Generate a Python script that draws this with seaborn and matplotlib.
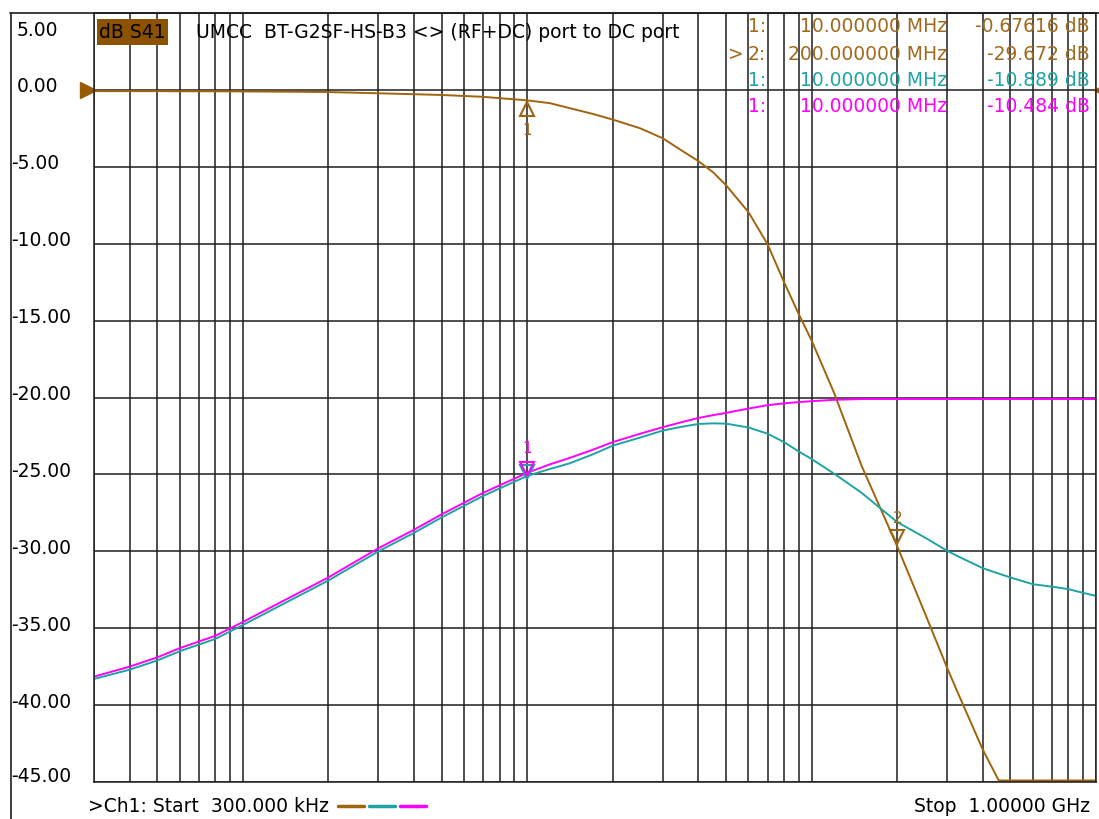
import numpy as np
import pandas as pd
import matplotlib
matplotlib.use('Agg')
import matplotlib.pyplot as plt
import matplotlib.transforms as mtransforms
from matplotlib.lines import Line2D
from matplotlib.patches import Rectangle
from matplotlib.ticker import LogLocator, MultipleLocator
import seaborn as sns

# ── data ──
freq_mhz = [0.3, 0.4, 0.5, 0.6, 0.8, 1, 1.5, 2, 3, 4, 5, 7, 10, 12, 14, 17, 20,
            25, 30, 35, 40, 45, 50, 60, 70, 80, 90, 100, 120, 150, 200, 250,
            300, 325, 400, 455, 500, 600, 700, 800, 900, 1000]
s41_db = [-0.08, -0.08, -0.08, -0.09, -0.09, -0.10, -0.12, -0.14, -0.22, -0.28,
          -0.33, -0.45, -0.68, -0.86, -1.17, -1.56, -1.93, -2.5, -3.15, -3.95,
          -4.63, -5.35, -6.19, -7.95, -10.03, -12.49, -14.55, -16.29, -19.7,
          -24.45, -29.67, -34.0, -37.6, -39.1, -42.9, -44.9, -44.9, -44.9,
          -44.9, -44.9, -44.9, -44.9]
teal_db = [-38.3, -37.7, -37.1, -36.5, -35.7, -34.8, -33.1, -31.9, -30.0, -28.8,
           -27.8, -26.4, -25.1, -24.65, -24.3, -23.7, -23.13, -22.6, -22.15,
           -21.9, -21.72, -21.68, -21.7, -21.95, -22.35, -22.9, -23.5, -24.0,
           -24.95, -26.2, -28.1, -29.1, -29.97, -30.3, -31.1, -31.45, -31.7,
           -32.14, -32.3, -32.46, -32.7, -32.9]
magenta_db = [-38.15, -37.5, -36.9, -36.3, -35.5, -34.6, -32.9, -31.7, -29.8,
              -28.6, -27.6, -26.2, -24.9, -24.35, -23.95, -23.4, -22.9, -22.35,
              -21.93, -21.6, -21.33, -21.15, -21.0, -20.72, -20.5, -20.38, -20.3,
              -20.24, -20.15, -20.1, -20.1, -20.1, -20.1, -20.1, -20.1, -20.1,
              -20.1, -20.1, -20.1, -20.1, -20.1, -20.1]
trace_names = ['S41', 'trace2', 'trace3']
trace_colors = ['#A0640F', '#1FA3A3', '#FF00FF']

y_ticks = [5, 0, -5, -10, -15, -20, -25, -30, -35, -40, -45]
y_tick_labels = ['5.00', '0.00', '-5.00', '-10.00', '-15.00', '-20.00', '-25.00',
                 '-30.00', '-35.00', '-40.00', '-45.00']

readout_idx = ['1:', '> 2:', '1:', '1:']
readout_freq = ['10.000000 MHz', '200.000000 MHz', '10.000000 MHz', '10.000000 MHz']
readout_val = ['-0.67616 dB', '-29.672 dB', '-10.889 dB', '-10.484 dB']
readout_color = ['#A06A1E', '#A06A1E', '#1FA3A3', '#FF00FF']

title_text = 'UMCC  BT-G2SF-HS-B3 <> (RF+DC) port to DC port'
start_text = '>Ch1: Start  300.000 kHz'
stop_text = 'Stop  1.00000 GHz'

# ── build long table ──
f_hz = np.array(freq_mhz) * 1e6
df = pd.DataFrame({
    'freq': np.concatenate([f_hz] * 3),
    'db': np.concatenate([s41_db, teal_db, magenta_db]),
    'trace': np.repeat(trace_names, len(f_hz)),
})

sns.set_style('white')
plt.rcParams['font.family'] = ['DejaVu Sans']
plt.rcParams['text.color'] = 'black'
FS = 13.5

W, H = 1099, 819
fig = plt.figure(figsize=(W / 100, H / 100), dpi=100)
fig.patch.set_facecolor('white')

def px(x, y):
    return x / W, 1 - y / H

L, R, T, B = 94, 1096, 13, 782
ax = fig.add_axes([L / W, 1 - B / H, (R - L) / W, (B - T) / H])
ax.set_xscale('log')
ax.set_xlim(3e5, 1e9)
ax.set_ylim(-45, 5)

ax.xaxis.set_major_locator(LogLocator(base=10, subs=np.arange(1, 10)))
ax.xaxis.set_minor_locator(LogLocator(base=10, subs=np.arange(1, 10)))
ax.yaxis.set_major_locator(MultipleLocator(5))
ax.grid(True, which='major', axis='both', color='#1e1e1e', lw=1.1)
ax.tick_params(which='both', length=0, labelleft=False, labelbottom=False)
for sp in ax.spines.values():
    sp.set_color('#1e1e1e')
    sp.set_linewidth(1.1)

sns.lineplot(data=df, x='freq', y='db', hue='trace', hue_order=trace_names,
             palette=trace_colors, legend=False, ax=ax, linewidth=1.4, sort=False)

# ── markers ──
def off(dy, dx=0):
    return mtransforms.offset_copy(ax.transData, fig=fig, x=dx, y=dy, units='dots')

i10 = freq_mhz.index(10)
i200 = freq_mhz.index(200)
# brown marker 1 (below trace, pointing up)
ax.plot([10e6], [s41_db[i10]], marker='^', ms=10, mfc='none', mec=trace_colors[0],
        mew=1.5, transform=off(-9), clip_on=False)
ax.text(10e6, s41_db[i10], '1', color=trace_colors[0], fontsize=11, ha='center',
        va='center', transform=off(-30))
# brown marker 2 (above trace)
ax.plot([200e6], [s41_db[i200]], marker='v', ms=10, mfc='none', mec=trace_colors[0],
        mew=1.5, transform=off(9), clip_on=False)
ax.text(200e6, s41_db[i200], '2', color=trace_colors[0], fontsize=11, ha='center',
        va='center', transform=off(28))
# teal / magenta marker 1
for vals, c in [(teal_db, trace_colors[1]), (magenta_db, trace_colors[2])]:
    ax.plot([10e6], [vals[i10]], marker='v', ms=10, mfc='none', mec=c, mew=1.5,
            transform=off(4), clip_on=False)
ax.text(10e6, magenta_db[i10], '1', color=trace_colors[2], fontsize=11, ha='center',
        va='center', transform=off(24))

# reference level arrows
ax.plot([3e5], [0], marker='>', ms=12, color='#9C5A00', transform=off(0, -6),
        clip_on=False)
ax.plot([1e9], [0], marker='<', ms=6, color='#9C5A00', transform=off(0, 2),
        clip_on=False)

# ── y labels in left column ──
ylab_tr = mtransforms.blended_transform_factory(fig.transFigure, ax.transData)
for v, lab in zip(y_ticks, y_tick_labels):
    x0 = 17 if not lab.startswith('-') else 11
    if v == 5:
        fig.text(*px(x0, 30), lab, fontsize=FS, ha='left', va='center')
    elif v == -45:
        fig.text(*px(x0, 777), lab, fontsize=FS, ha='left', va='center')
    else:
        fig.text(x0 / W, v, lab, fontsize=FS, ha='left', va='center',
                 transform=mtransforms.offset_copy(ylab_tr, fig=fig, x=0, y=3, units='dots'))

# ── frame ──
fig.add_artist(Line2D([10.5 / W, 10.5 / W], [0, 1 - 13 / H], color='#1e1e1e', lw=1.2))
fig.add_artist(Line2D([10 / W, 1], [1 - 13 / H, 1 - 13 / H], color='#1e1e1e', lw=1.2))

# ── header ──
fig.add_artist(Rectangle(px(97, 45), 71 / W, 26 / H, facecolor='#8B5200',
                         edgecolor='none', zorder=5))
fig.text(*px(132, 33), 'dB S41', fontsize=FS, ha='center', va='center', color='black', zorder=6)
fig.text(*px(196, 33), title_text, fontsize=FS, ha='left', va='center', color='black')

row_y = [26, 54, 80, 107]
for ry, idx, fr, val, c in zip(row_y, readout_idx, readout_freq, readout_val, readout_color):
    if idx.startswith('>'):
        fig.text(*px(728, ry), '>', fontsize=FS, ha='left', va='center', color=c)
        idx = idx[2:]
    fig.text(*px(748, ry), idx, fontsize=FS, ha='left', va='center', color=c)
    fig.text(*px(947, ry), fr, fontsize=FS, ha='right', va='center', color=c)
    fig.text(*px(1090, ry), val, fontsize=FS, ha='right', va='center', color=c)

# ── footer ──
fig.text(*px(88, 806), start_text, fontsize=FS, ha='left', va='center', color='black')
for k, c in enumerate(trace_colors):
    x0 = 338 + k * 31
    fig.add_artist(Line2D([x0 / W, (x0 + 26) / W], [1 - 806 / H] * 2, color=c, lw=2.5))
fig.text(*px(1090, 806), stop_text, fontsize=FS, ha='right', va='center', color='black')

fig.savefig('out.png', dpi=100, facecolor='white')
